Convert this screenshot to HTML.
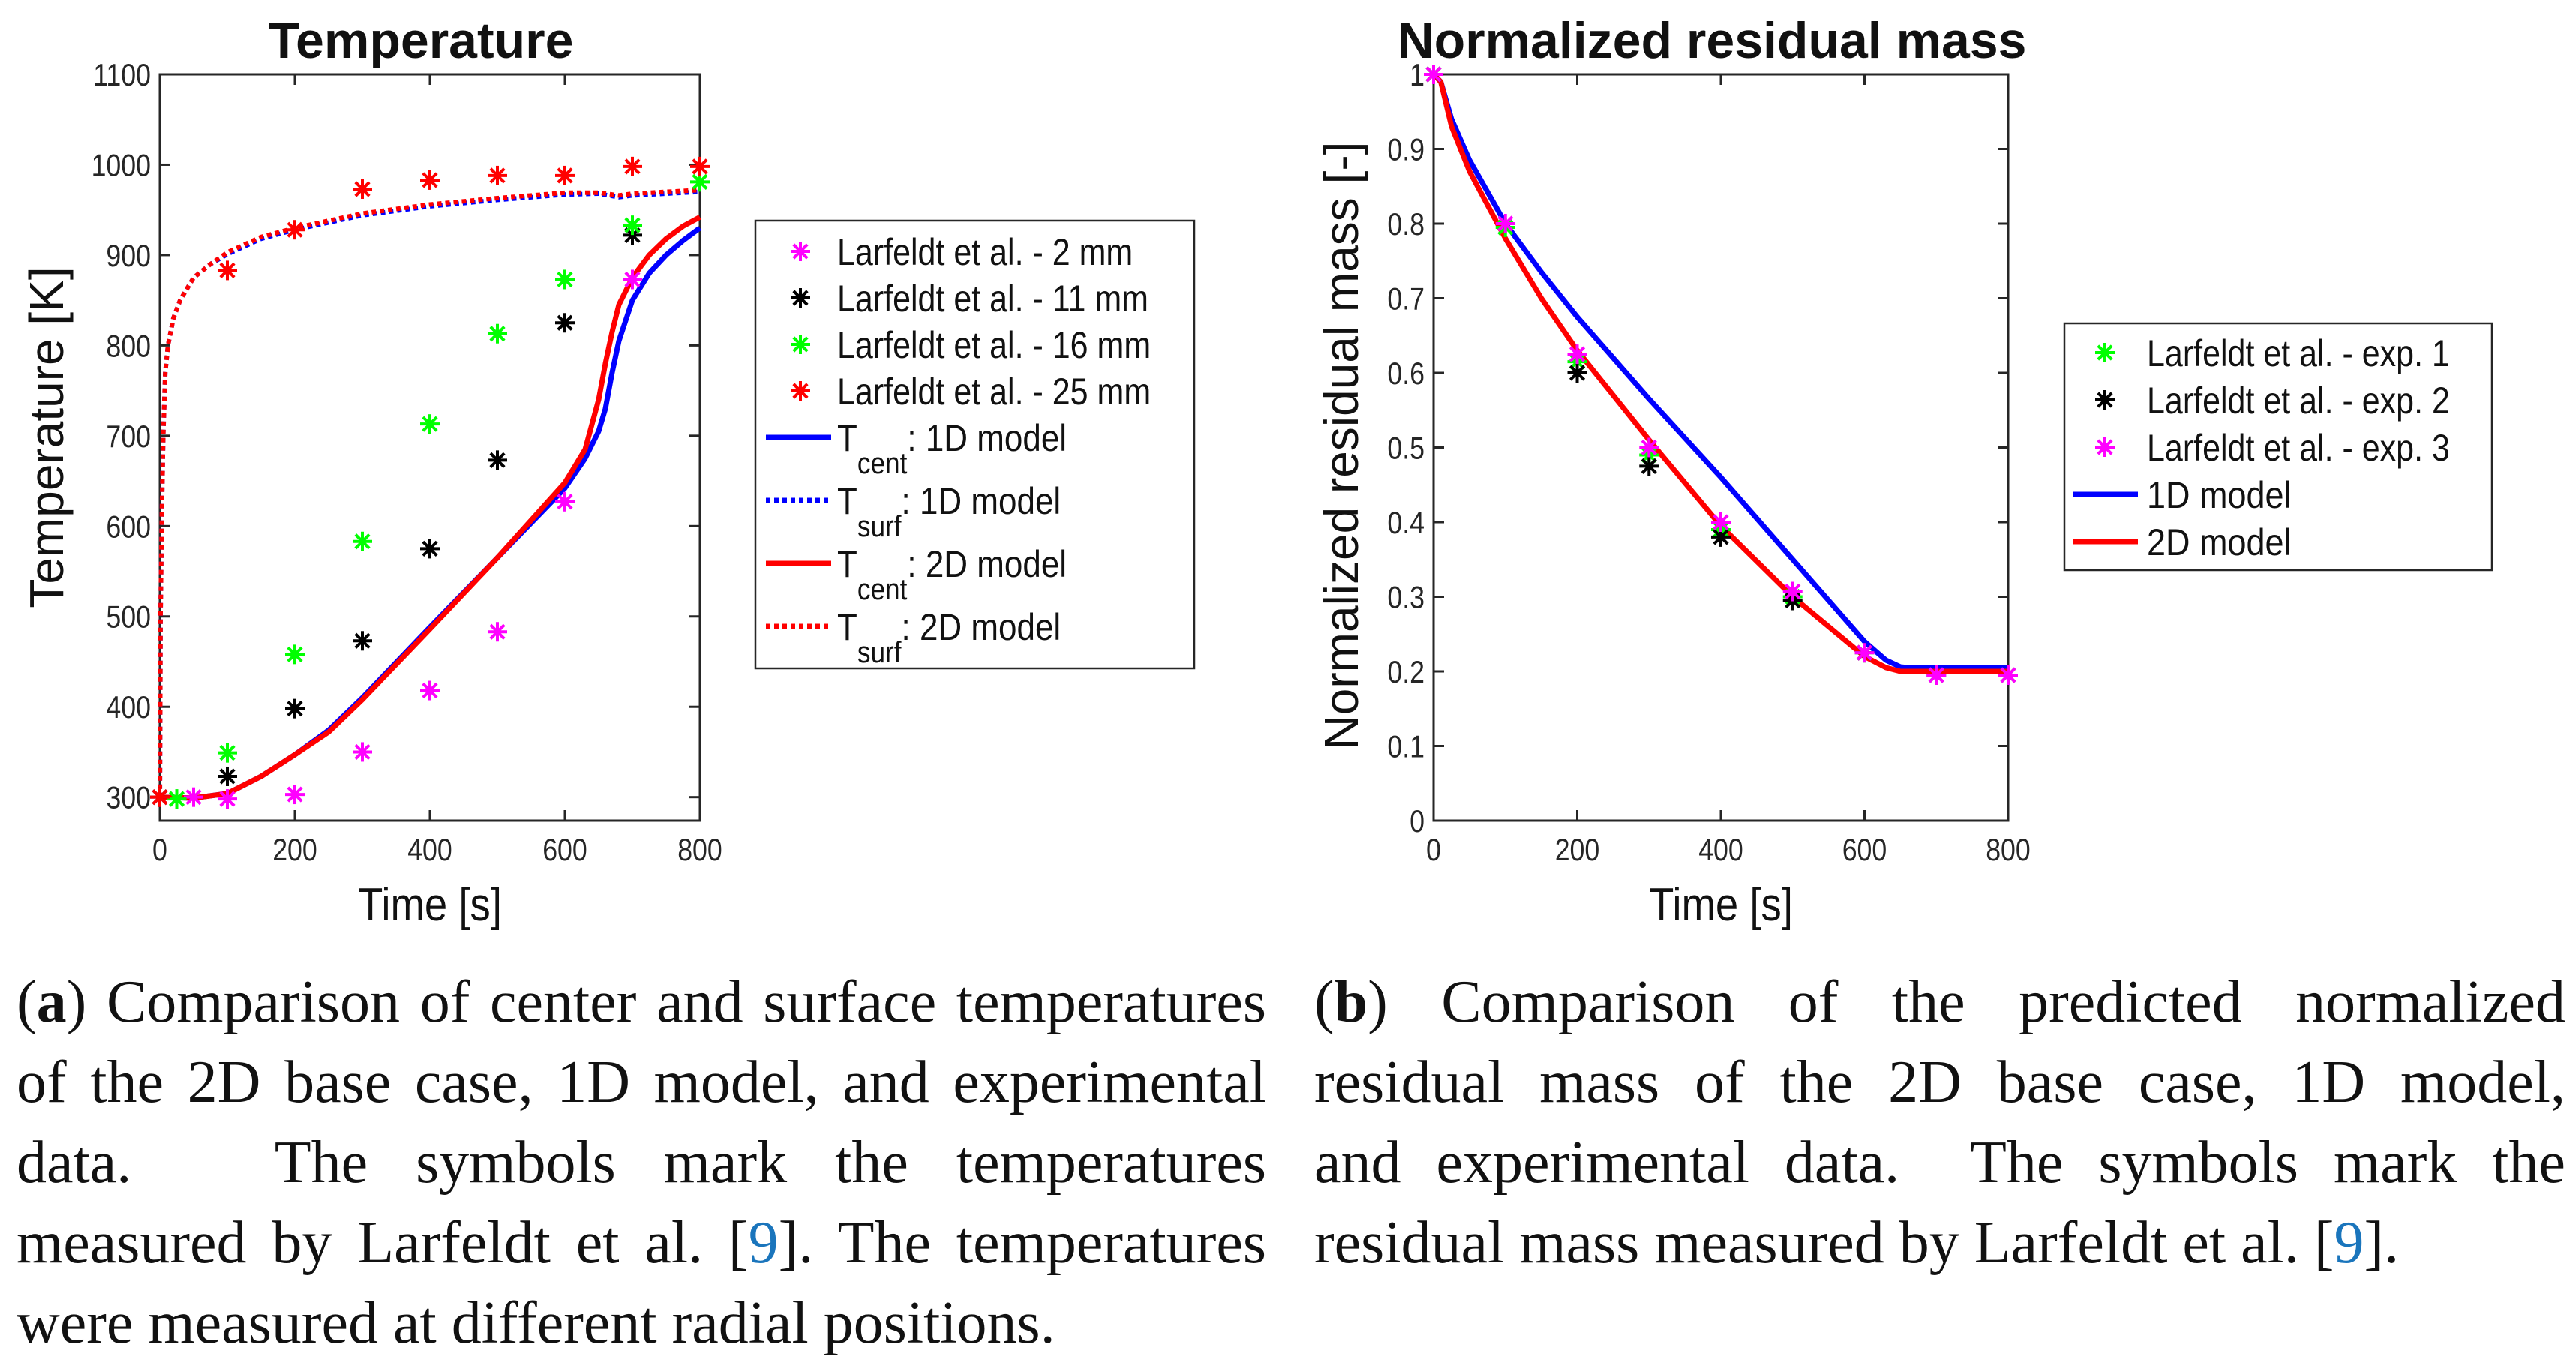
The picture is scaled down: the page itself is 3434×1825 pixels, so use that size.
<!DOCTYPE html>
<html><head><meta charset="utf-8"><style>
html,body{margin:0;padding:0;background:#fff;}
body{width:3434px;height:1825px;position:relative;overflow:hidden;}
svg{position:absolute;left:0;top:0;}
.cap{position:absolute;font-family:"Liberation Serif",serif;font-size:80px;color:#111;white-space:nowrap;line-height:1;}
.j{text-align:justify;text-align-last:justify;}
.ref{color:#1a75bc;}
</style></head><body>
<svg id="chart" width="3434" height="1825" viewBox="0 0 3434 1825"></svg>

<div class="cap j" style="left:22px;top:1296px;width:1666px">(<b>a</b>) Comparison of center and surface temperatures</div>
<div class="cap j" style="left:22px;top:1403px;width:1666px">of the 2D base case, 1D model, and experimental</div>
<div class="cap j" style="left:22px;top:1510px;width:1666px">data. &nbsp; The symbols mark the temperatures</div>
<div class="cap j" style="left:22px;top:1617px;width:1666px">measured by Larfeldt et al. [<span class="ref">9</span>]. The temperatures</div>
<div class="cap" style="left:22px;top:1724px">were measured at different radial positions.</div>

<div class="cap j" style="left:1752px;top:1296px;width:1668px">(<b>b</b>) Comparison of the predicted normalized</div>
<div class="cap j" style="left:1752px;top:1403px;width:1668px">residual mass of the 2D base case, 1D model,</div>
<div class="cap j" style="left:1752px;top:1510px;width:1668px">and experimental data. &nbsp;The symbols mark the</div>
<div class="cap" style="left:1752px;top:1617px">residual mass measured by Larfeldt et al. [<span class="ref">9</span>].</div>

<script>
// ---- Temperature chart data ----
const tTicksX = [0,200,400,600,800];
const tTicksY = [300,400,500,600,700,800,900,1000,1100];
const m2mmT = [0,50,100,200,300,400,500,600,700];
const m2mmV = [300,300,298,303,350,418,483,627,873];
const m11mmT = [0,100,200,300,400,500,600,700];
const m11mmV = [300,323,398,473,575,673,825,922];
const m16mmT = [25,100,200,300,400,500,600,700,800];
const m16mmV = [298,349,458,583,713,813,873,933,981];
const m25mmT = [0,100,200,300,400,500,600,700,800];
const m25mmV = [300,883,928,973,983,988,988,998,998];
const surfT = [0,1,3,5,8,12,20,30,50,75,100,150,200,300,400,500,600,650,680,700,800];
const surf1DV = [300,500,620,700,770,800,830,850,875,890,901,918,928,944,954,961,967,968,964,966,970];
const surf2DV = [300,500,620,700,770,800,830,850,875,890,903,920,930,946,956,963,969,969,966,968,972];
const centT = [0,50,100,150,200,250,300,400,500,600,630,650,660,670,680,700,725,750,775,800];
const cent1DV = [300,299,304,323,347,374,410,488,565,642,675,705,730,770,805,850,880,900,916,930];
const cent2DV = [300,299,304,323,347,372,408,486,565,648,685,740,780,815,845,875,900,918,932,942];
// ---- Mass chart data ----
const mTicksX = [0,200,400,600,800];
const mTicksY = [0,0.1,0.2,0.3,0.4,0.5,0.6,0.7,0.8,0.9,1];
const exp1T = [0,100,200,300,400,500,600,700,800];
const exp1V = [1,0.795,0.615,0.49,0.39,0.3,0.225,0.195,0.195];
const exp2T = [0,200,300,400,500,600];
const exp2V = [1,0.6,0.475,0.38,0.295,0.225];
const exp3T = [0,100,200,300,400,500,600,700,800];
const exp3V = [1,0.8,0.625,0.5,0.4,0.307,0.225,0.195,0.195];
const massT = [0,10,25,50,100,150,200,300,400,500,600,630,650,660,700,800];
const mass1DV = [1,0.99,0.94,0.885,0.8,0.735,0.675,0.565,0.46,0.35,0.24,0.215,0.206,0.205,0.205,0.205];
const mass2DV = [1,0.99,0.93,0.87,0.78,0.7,0.63,0.51,0.395,0.3,0.22,0.205,0.2,0.2,0.2,0.2];

const NS='http://www.w3.org/2000/svg';
const svg=document.getElementById('chart');
function el(tag,attrs,parent){const e=document.createElementNS(NS,tag);for(const k in attrs)e.setAttribute(k,attrs[k]);(parent||svg).appendChild(e);return e;}
const FONT='"Liberation Sans", sans-serif';

function axes(ax){
  const sx=v=>ax.x0+(v-ax.xmin)/(ax.xmax-ax.xmin)*(ax.x1-ax.x0);
  const sy=v=>ax.y1-(v-ax.ymin)/(ax.ymax-ax.ymin)*(ax.y1-ax.y0);
  return {sx,sy};
}
function drawFrame(ax,s,name,xt,yt,ylabFmt){
  const g=el('g',{});
  
  
  const r=el('rect',{x:ax.x0,y:ax.y0,width:ax.x1-ax.x0,height:ax.y1-ax.y0,fill:'none',stroke:'#262626','stroke-width':3},g);
  
  
  xt.forEach(v=>{
    const x=s.sx(v);
    el('line',{x1:x,y1:ax.y1,x2:x,y2:ax.y1-14,stroke:'#262626','stroke-width':3},g);
    el('line',{x1:x,y1:ax.y0,x2:x,y2:ax.y0+14,stroke:'#262626','stroke-width':3},g);
    const t=el('text',{x:x,y:ax.y1+53,'text-anchor':'middle','font-family':FONT,'font-size':42,fill:'#262626',transform:`translate(${x},0) scale(0.85,1) translate(${-x},0)`},g);
    t.textContent=v;
    
    
  });
  yt.forEach(v=>{
    const y=s.sy(v);
    el('line',{x1:ax.x0,y1:y,x2:ax.x0+14,y2:y,stroke:'#262626','stroke-width':3},g);
    el('line',{x1:ax.x1,y1:y,x2:ax.x1-14,y2:y,stroke:'#262626','stroke-width':3},g);
    const xx=ax.x0-12;
    const t=el('text',{x:xx,y:y+15,'text-anchor':'end','font-family':FONT,'font-size':42,fill:'#262626',transform:`translate(${xx},0) scale(0.85,1) translate(${-xx},0)`},g);
    t.textContent=ylabFmt(v);
    
    
  });
}
function drawLine(s,xs,ys,color,dash,name){
  const d=xs.map((x,i)=>(i?'L':'M')+s.sx(x).toFixed(1)+','+s.sy(ys[i]).toFixed(1)).join(' ');
  const p=el('path',{d:d,fill:'none',stroke:color,'stroke-width':dash?6:7,'stroke-dasharray':dash?'6 5':'none','stroke-linejoin':'round'});
  
  
}
function star(cx,cy,color,parent){
  const g=el('g',{stroke:color,'stroke-width':4},parent);
  const r=13;
  for(let a=0;a<4;a++){const an=a*Math.PI/4;el('line',{x1:cx-r*Math.cos(an),y1:cy-r*Math.sin(an),x2:cx+r*Math.cos(an),y2:cy+r*Math.sin(an)},g);}
  return g;
}
function drawMarkers(s,xs,ys,color,name){
  const g=el('g',{});
  
  
  xs.forEach((x,i)=>{
    const m=star(s.sx(x),s.sy(ys[i]),color,g);
    
    
  });
}
function text(str,x,y,size,opts,name){
  const t=el('text',Object.assign({x:x,y:y,'font-family':FONT,'font-size':size,fill:'#111'},opts||{}));
  t.textContent=str;
  
  
  return t;
}
function sc(x,k){return `translate(${x},0) scale(${k},1) translate(${-x},0)`;}

// ===== Temperature chart =====
const axT={x0:213,x1:933,y0:99,y1:1094,xmin:0,xmax:800,ymin:274,ymax:1100};
const sT=axes(axT);
drawFrame(axT,sT,'temperature',tTicksX,tTicksY,v=>String(v));
drawLine(sT,centT,cent1DV,'#0000ff',false,'tcent-1d-line');
drawLine(sT,surfT,surf1DV,'#0000ff',true,'tsurf-1d-line');
drawLine(sT,centT,cent2DV,'#ff0000',false,'tcent-2d-line');
drawLine(sT,surfT,surf2DV,'#ff0000',true,'tsurf-2d-line');
drawMarkers(sT,m2mmT,m2mmV,'#ff00ff','markers-2mm');
drawMarkers(sT,m11mmT,m11mmV,'#000000','markers-11mm');
drawMarkers(sT,m16mmT,m16mmV,'#00ff00','markers-16mm');
drawMarkers(sT,m25mmT,m25mmV,'#ff0000','markers-25mm');
text('Temperature',561,77,68,{'text-anchor':'middle','font-weight':'bold'},'temperature-title');
text('Time [s]',573,1227,62,{'text-anchor':'middle',transform:sc(573,0.88)},'temperature-x-axis-title');
text('Temperature [K]',0,0,64,{'text-anchor':'middle',transform:'translate(84,583) rotate(-90)'},'temperature-y-axis-title');

// legend T
const lgT=el('g',{});


el('rect',{x:1007,y:294,width:585,height:597,fill:'#fff',stroke:'#262626','stroke-width':2.5},lgT);
const lgTLabels=['Larfeldt et al. - 2 mm','Larfeldt et al. - 11 mm','Larfeldt et al. - 16 mm','Larfeldt et al. - 25 mm'];
const lgTColors=['#ff00ff','#000000','#00ff00','#ff0000'];
const lgTY=[335,397,459,521];
lgTLabels.forEach((l,i)=>{
  star(1067,lgTY[i],lgTColors[i],lgT);
  lgT.appendChild(text(l,1116,lgTY[i]+18,50,{transform:sc(1116,0.86)},'legend-entry-'+i));
});
const lgLines=[['cent','1D','#0000ff',false],['surf','1D','#0000ff',true],['cent','2D','#ff0000',false],['surf','2D','#ff0000',true]];
const lgLY=[583,667,751,835];
lgLines.forEach((l,i)=>{
  const y=lgLY[i];
  el('line',{x1:1021,y1:y,x2:1108,y2:y,stroke:l[2],'stroke-width':7,'stroke-dasharray':l[3]?'6 5':'none'},lgT);
  const t=el('text',{x:1116,y:y+18,'font-family':FONT,'font-size':50,fill:'#111'},lgT);
  
  
  t.innerHTML='T<tspan dy="30" font-size="40">'+l[0]+'</tspan><tspan dy="-30">: '+l[1]+' model</tspan>';
  t.setAttribute('transform',sc(1116,0.88));
});

// ===== Mass chart =====
const axM={x0:1911,x1:2677,y0:99,y1:1094,xmin:0,xmax:800,ymin:0,ymax:1};
const sM=axes(axM);
drawFrame(axM,sM,'mass',mTicksX,mTicksY,v=>String(Math.round(v*10)/10));
drawLine(sM,massT,mass1DV,'#0000ff',false,'mass-1d-line');
drawLine(sM,massT,mass2DV,'#ff0000',false,'mass-2d-line');
drawMarkers(sM,exp1T,exp1V,'#00ff00','markers-exp1');
drawMarkers(sM,exp2T,exp2V,'#000000','markers-exp2');
drawMarkers(sM,exp3T,exp3V,'#ff00ff','markers-exp3');
text('Normalized residual mass',2282,77,68,{'text-anchor':'middle','font-weight':'bold'},'mass-title');
text('Time [s]',2294,1227,62,{'text-anchor':'middle',transform:sc(2294,0.88)},'mass-x-axis-title');
text('Normalized residual mass [-]',0,0,64,{'text-anchor':'middle',transform:'translate(1810,594) rotate(-90)'},'mass-y-axis-title');

const lgM=el('g',{});


el('rect',{x:2752,y:431,width:570,height:329,fill:'#fff',stroke:'#262626','stroke-width':2.5},lgM);
const lgMLabels=['Larfeldt et al. - exp. 1','Larfeldt et al. - exp. 2','Larfeldt et al. - exp. 3'];
const lgMColors=['#00ff00','#000000','#ff00ff'];
const lgMY=[470,533,596];
lgMLabels.forEach((l,i)=>{
  star(2806,lgMY[i],lgMColors[i],lgM);
  lgM.appendChild(text(l,2862,lgMY[i]+18,50,{transform:sc(2862,0.86)},'mass-legend-entry-'+i));
});
[['1D model','#0000ff',659],['2D model','#ff0000',722]].forEach((l,i)=>{
  el('line',{x1:2763,y1:l[2],x2:2850,y2:l[2],stroke:l[1],'stroke-width':7},lgM);
  lgM.appendChild(text(l[0],2862,l[2]+18,50,{transform:sc(2862,0.9)},'mass-legend-line-'+i));
});
</script>
</body></html>
